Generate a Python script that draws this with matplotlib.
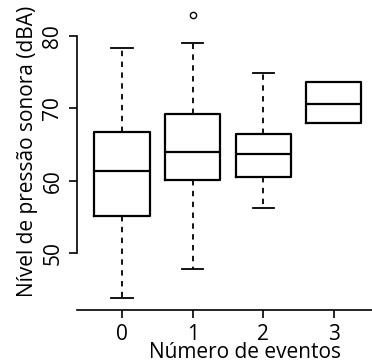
import matplotlib
matplotlib.use("Agg")
import matplotlib.pyplot as plt

plt.rcParams['font.family'] = ['Open Sans', 'DejaVu Sans']

categories = ["0", "1", "2", "3"]
whislo = [43.8, 47.9, 56.3, 68.0]
q1 = [55.2, 60.1, 60.55, 68.0]
med = [61.4, 64.0, 63.7, 70.6]
q3 = [66.7, 69.2, 66.5, 73.6]
whishi = [78.3, 78.95, 74.9, 73.6]
fliers = [[], [82.9], [], []]

W, H = 372, 362
fig = plt.figure(figsize=(W / 100, H / 100), dpi=100)

# pixel layout
x0_px, sp = 122.0, 70.57
left_px = 77.3
xlo = -(x0_px - left_px) / sp
xhi = 3.66
right_px = x0_px + xhi * sp
y80, y50 = 35.7, 253.3
ppu = (y50 - y80) / 30.0
ylo, yhi = 42.17, 84.5
bot_px = y80 + (80 - ylo) * ppu
top_px = y80 - (yhi - 80) * ppu

ax = fig.add_axes([left_px / W, (H - bot_px) / H, (right_px - left_px) / W, (bot_px - top_px) / H])

stats = []
for i, c in enumerate(categories):
    stats.append(dict(label=c, whislo=whislo[i], q1=q1[i], med=med[i], q3=q3[i],
                      whishi=whishi[i], fliers=fliers[i]))

positions = list(range(len(categories)))
ax.bxp(stats, positions=positions, widths=0.78, showfliers=True,
       boxprops=dict(color='black', linewidth=1.6),
       medianprops=dict(color='black', linewidth=1.6),
       whiskerprops=dict(color='black', linewidth=1.3, linestyle=(0, (3, 3))),
       capprops=dict(color='black', linewidth=1.3),
       flierprops=dict(marker='o', markersize=4.5, markerfacecolor='none',
                       markeredgecolor='black', markeredgewidth=1.0),
       capwidths=0.3)

ax.set_xlim(xlo, xhi)
ax.set_ylim(ylo, yhi)
ax.set_xticks(positions)
ax.set_xticklabels(categories)
ax.set_yticks([50, 60, 70, 80])
ax.set_yticklabels(["50", "60", "70", "80"], rotation=90, va='center')

for s in ['top', 'right']:
    ax.spines[s].set_visible(False)
ax.spines['left'].set_bounds(50, 80)
ax.spines['left'].set_linewidth(1.2)
ax.spines['bottom'].set_linewidth(1.2)

ax.tick_params(axis='both', labelsize=15, length=6, width=1.2, color='black')
ax.tick_params(axis='x', pad=4)
ax.tick_params(axis='y', pad=4)

fig.text(245 / W, (H - 358.3) / H, "Número de eventos", fontsize=15,
         ha='center', va='baseline')
fig.text(28 / W, (H - 151) / H, "Nível de pressão sonora (dBA)", fontsize=15,
         ha='center', va='center', rotation=90)

fig.savefig("out.png", dpi=100)
